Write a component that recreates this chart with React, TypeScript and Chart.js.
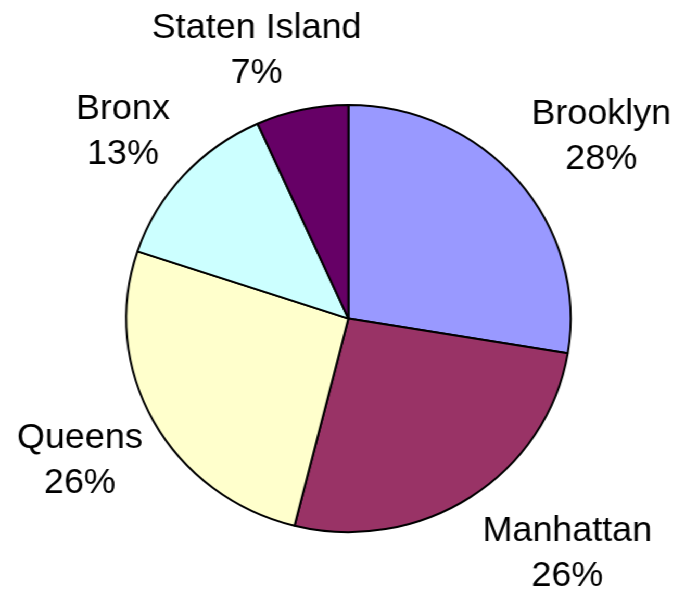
import React, { useEffect, useRef } from 'react';
import { Chart, registerables } from 'chart.js';

Chart.register(...registerables);

// Data
const boroughs: string[] = ['Brooklyn', 'Manhattan', 'Queens', 'Bronx', 'Staten Island'];
const shares: number[] = [27.6, 26.3, 26.2, 13.2, 6.7];
const sliceColors: string[] = ['#9999FF', '#993366', '#FFFFCC', '#CCFFFF', '#660066'];

// The reference is slightly stretched horizontally
const CANVAS_W = 658;
const CANVAS_H = 598;
const STRETCH = 685 / CANVAS_W;

const outsideLabels = {
  id: 'outsideLabels',
  afterDatasetsDraw(chart: any) {
    const ctx: CanvasRenderingContext2D = chart.ctx;
    const meta = chart.getDatasetMeta(0);
    const data = chart.data.datasets[0].data as number[];
    const total = data.reduce((a, b) => a + b, 0);
    const fontSize = 34.5;
    const lineGap = 45;
    const cap = 25;
    ctx.save();
    ctx.font = `${fontSize}px "Liberation Sans", Arial, sans-serif`;
    ctx.fillStyle = '#000';
    ctx.textAlign = 'center';
    ctx.textBaseline = 'alphabetic';
    const f = (u: number) => Math.max(-1, Math.min(1, 1.8 * u));
    meta.data.forEach((arc: any, i: number) => {
      const { x, y, startAngle, endAngle, outerRadius } = arc.getProps(
        ['x', 'y', 'startAngle', 'endAngle', 'outerRadius'],
        true
      );
      const mid = (startAngle + endAngle) / 2;
      const ux = Math.cos(mid);
      const uy = Math.sin(mid);
      const dist = outerRadius - 2.8 + 30.6 * Math.abs(uy);
      const px = x + ux * dist;
      const py = y + uy * dist;
      const l1 = String(chart.data.labels[i]);
      const l2 = Math.round((data[i] / total) * 100) + '%';
      const w = Math.max(ctx.measureText(l1).width, ctx.measureText(l2).width);
      const h = cap + lineGap;
      const cx = px + (f(ux) * w) / 2;
      const cy = py + (f(uy) * h) / 2;
      const top = cy - h / 2;
      ctx.fillText(l1, cx, top + cap);
      ctx.fillText(l2, cx, top + cap + lineGap);
    });
    ctx.restore();
  },
};

export default function App() {
  const ref = useRef<HTMLCanvasElement>(null);
  useEffect(() => {
    const chart = new Chart(ref.current as HTMLCanvasElement, {
      type: 'pie',
      data: {
        labels: boroughs,
        datasets: [
          {
            data: shares,
            backgroundColor: sliceColors,
            borderColor: '#000',
            borderWidth: 2,
            hoverBorderWidth: 2,
            hoverOffset: 0,
            offset: 0,
          } as any,
        ],
      },
      options: {
        responsive: false,
        animation: false,
        events: [],
        radius: 213.5,
        layout: { padding: { left: 80, right: 68.6, top: 104.1, bottom: 64.9 } },
        plugins: {
          legend: { display: false },
          tooltip: { enabled: false },
          title: { display: false },
        },
      } as any,
      plugins: [outsideLabels],
    });
    return () => chart.destroy();
  }, []);
  return (
    <div
      style={{
        position: 'fixed',
        left: 0,
        top: 0,
        width: CANVAS_W,
        height: CANVAS_H,
        transform: `scaleX(${STRETCH})`,
        transformOrigin: '0 0',
        background: '#fff',
      }}
    >
      <canvas ref={ref} width={CANVAS_W} height={CANVAS_H} style={{ display: 'block' }} />
    </div>
  );
}
